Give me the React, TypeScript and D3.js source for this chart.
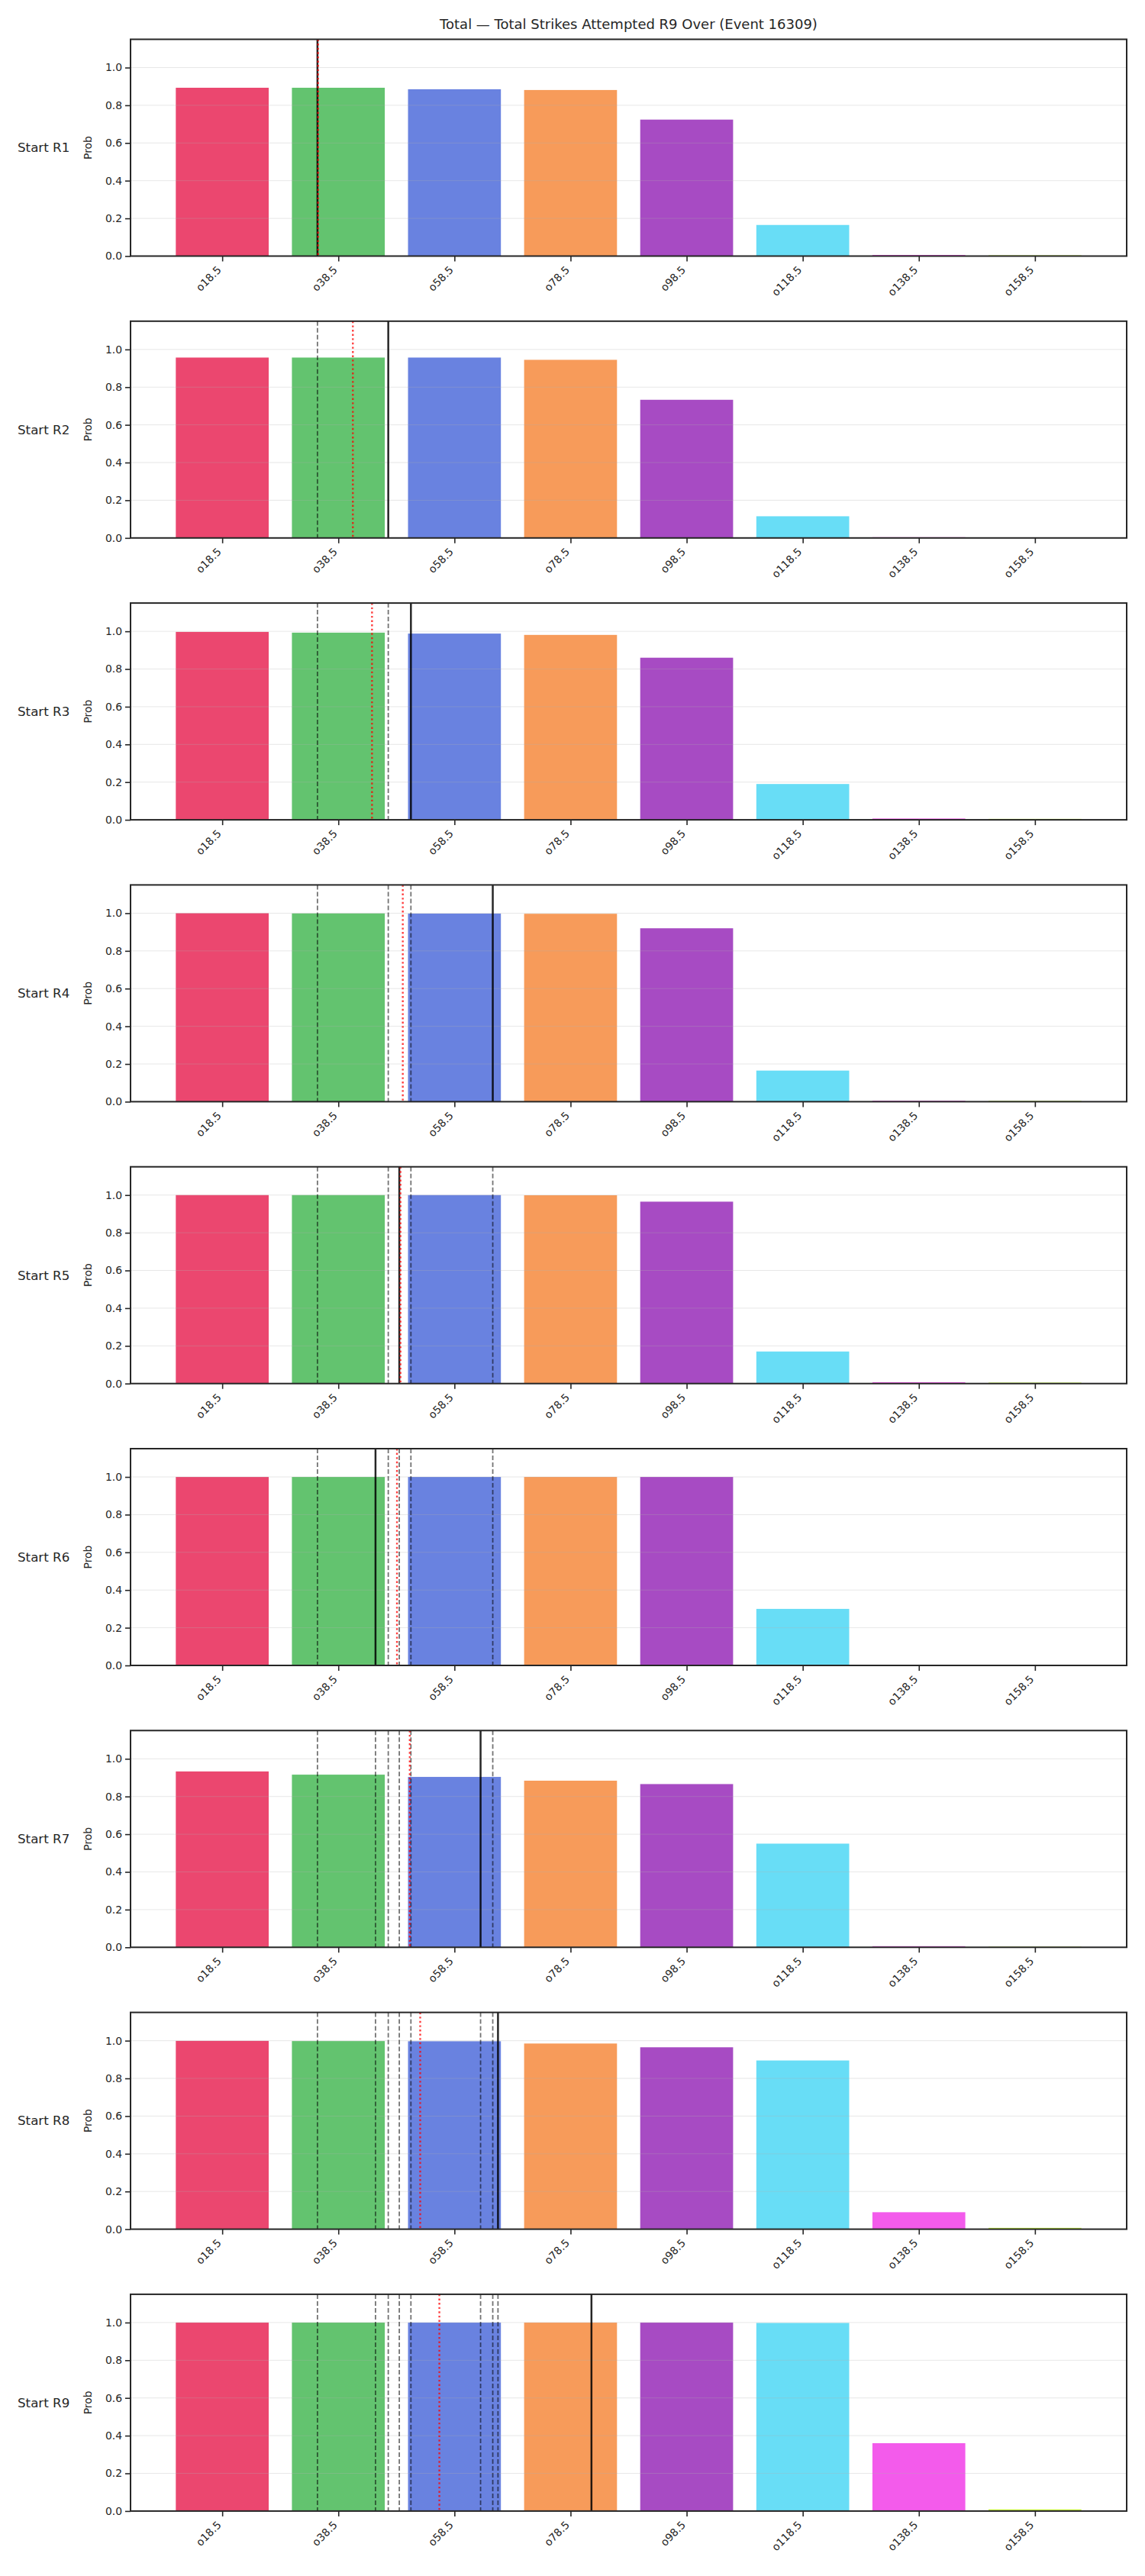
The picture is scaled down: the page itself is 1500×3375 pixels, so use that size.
import { useEffect, useRef } from 'react';
import * as d3 from 'd3';

// strike-count lines (bar categories)
const lineValues = [18.5, 38.5, 58.5, 78.5, 98.5, 118.5, 138.5, 158.5];
const barColors = ['#e6194b', '#3cb44b', '#4363d8', '#f58231', '#911eb4', '#42d4f4', '#f032e6', '#bcf60c'];

const roundLabels = ['Start R1', 'Start R2', 'Start R3', 'Start R4', 'Start R5', 'Start R6', 'Start R7', 'Start R8', 'Start R9'];

// P(over) for each line, one array per starting round
const probsR1 = [0.893, 0.893, 0.885, 0.881, 0.724, 0.165, 0.006, 0.004];
const probsR2 = [0.957, 0.957, 0.957, 0.945, 0.733, 0.115, 0.004, 0.002];
const probsR3 = [0.997, 0.993, 0.988, 0.981, 0.86, 0.19, 0.007, 0.005];
const probsR4 = [1.0, 0.999, 0.998, 0.997, 0.92, 0.165, 0.005, 0.004];
const probsR5 = [1.0, 1.0, 1.0, 0.999, 0.965, 0.17, 0.007, 0.005];
const probsR6 = [1.0, 1.0, 1.0, 1.0, 1.0, 0.3, 0.002, 0.001];
const probsR7 = [0.933, 0.916, 0.904, 0.884, 0.866, 0.55, 0.006, 0.003];
const probsR8 = [0.999, 0.998, 0.997, 0.985, 0.965, 0.895, 0.09, 0.007];
const probsR9 = [1.0, 1.0, 1.0, 1.0, 1.0, 0.998, 0.36, 0.009];

// observed value per round (solid, later dashed) and running mean (dotted red)
const roundActual = [34.9, 47.1, 51.0, 65.1, 49.0, 44.9, 63.0, 66.0, 82.1];
const runningMean = [35.0, 41.0, 44.3, 49.6, 49.2, 48.6, 50.8, 52.6, 55.9];

const yTicks = [0, 0.2, 0.4, 0.6, 0.8, 1.0];

const title = 'Total — Total Strikes Attempted R9 Over (Event 16309)';

export default function App() {
  const ref = useRef<SVGSVGElement>(null);

  useEffect(() => {
    const svgEl = ref.current;
    if (!svgEl) return;
    const svg = d3.select(svgEl);
    svg.selectAll('*').remove();

    const width = 1500;
    const height = 3375;
    const left = 171;
    const right = 1476;
    const firstTop = 51.5;
    const step = 369.3;
    const panelH = 284;
    const font = 'DejaVu Sans, sans-serif';
    const ink = '#262626';

    svg.attr('viewBox', `0 0 ${width} ${height}`);
    svg.append('rect').attr('width', width).attr('height', height).attr('fill', '#fff');

    const allProbs = [probsR1, probsR2, probsR3, probsR4, probsR5, probsR6, probsR7, probsR8, probsR9];

    // categories sit 20 units apart, padded like matplotlib's 5% margin
    const x = d3
      .scaleLinear()
      .domain([18.5 - 0.79 * 20, 18.5 + 7.79 * 20])
      .range([left, right]);
    const barW = x(16) - x(0);

    const y = d3.scaleLinear().domain([0, 1.15]).range([panelH, 0]);

    svg
      .append('text')
      .attr('x', (left + right) / 2)
      .attr('y', 38)
      .attr('text-anchor', 'middle')
      .attr('font-family', font)
      .attr('font-size', 18)
      .attr('fill', ink)
      .text(title);

    allProbs.forEach((probs, i) => {
      const g = svg.append('g').attr('transform', `translate(0,${firstTop + i * step})`);

      g.selectAll('rect.bar')
        .data(probs)
        .join('rect')
        .attr('class', 'bar')
        .attr('x', (_d, j) => x(lineValues[j]) - barW / 2)
        .attr('y', (d) => y(d))
        .attr('width', barW)
        .attr('height', (d) => y(0) - y(d))
        .attr('fill', (_d, j) => barColors[j])
        .attr('fill-opacity', 0.8);

      g.selectAll('line.grid')
        .data(yTicks)
        .join('line')
        .attr('class', 'grid')
        .attr('x1', left)
        .attr('x2', right)
        .attr('y1', (d) => y(d))
        .attr('y2', (d) => y(d))
        .attr('stroke', '#b0b0b0')
        .attr('stroke-opacity', 0.3)
        .attr('stroke-width', 1);

      // earlier rounds
      g.selectAll('line.prev')
        .data(roundActual.slice(0, i))
        .join('line')
        .attr('class', 'prev')
        .attr('x1', (d) => x(d))
        .attr('x2', (d) => x(d))
        .attr('y1', 0)
        .attr('y2', panelH)
        .attr('stroke', '#000')
        .attr('stroke-opacity', 0.55)
        .attr('stroke-width', 1.8)
        .attr('stroke-dasharray', '6,3');

      g.append('line')
        .attr('x1', x(roundActual[i]))
        .attr('x2', x(roundActual[i]))
        .attr('y1', 0)
        .attr('y2', panelH)
        .attr('stroke', '#000')
        .attr('stroke-opacity', 0.85)
        .attr('stroke-width', 2.5);

      g.append('line')
        .attr('x1', x(runningMean[i]))
        .attr('x2', x(runningMean[i]))
        .attr('y1', 0)
        .attr('y2', panelH)
        .attr('stroke', 'red')
        .attr('stroke-opacity', 0.75)
        .attr('stroke-width', 2.4)
        .attr('stroke-dasharray', '2.4,3.2');

      g.append('rect')
        .attr('x', left)
        .attr('y', 0)
        .attr('width', right - left)
        .attr('height', panelH)
        .attr('fill', 'none')
        .attr('stroke', ink)
        .attr('stroke-width', 2);

      const yAxis = g
        .append('g')
        .attr('transform', `translate(${left},0)`)
        .call(
          d3
            .axisLeft(y)
            .tickValues(yTicks)
            .tickFormat((d) => d3.format('.1f')(d as number))
            .tickSize(7)
            .tickPadding(4)
        );
      yAxis.select('.domain').remove();
      yAxis.selectAll('line').attr('stroke', ink).attr('stroke-width', 1.6);
      yAxis.selectAll('text').attr('font-family', font).attr('font-size', 13.9).attr('fill', ink);

      const xAxis = g
        .append('g')
        .attr('transform', `translate(0,${panelH})`)
        .call(
          d3
            .axisBottom(x)
            .tickValues(lineValues)
            .tickFormat((d) => `o${d}`)
            .tickSize(7)
        );
      xAxis.select('.domain').remove();
      xAxis.selectAll('line').attr('stroke', ink).attr('stroke-width', 1.6);
      xAxis
        .selectAll('text')
        .attr('font-family', font)
        .attr('font-size', 13.9)
        .attr('fill', ink)
        .attr('text-anchor', 'end')
        .attr('dy', null)
        .attr('y', 0)
        .attr('transform', 'translate(-1,19) rotate(-45)');

      g.append('text')
        .attr('transform', `translate(120,${panelH / 2}) rotate(-90)`)
        .attr('text-anchor', 'middle')
        .attr('font-family', font)
        .attr('font-size', 13.9)
        .attr('fill', ink)
        .text('Prob');

      g.append('text')
        .attr('x', 23)
        .attr('y', panelH / 2)
        .attr('dy', '0.35em')
        .attr('font-family', font)
        .attr('font-size', 16.7)
        .attr('fill', ink)
        .text(roundLabels[i]);
    });
  }, []);

  return (
    <div style={{ position: 'absolute', left: 0, top: 0 }}>
      <svg ref={ref} width={1500} height={3375} style={{ display: 'block' }} />
    </div>
  );
}
